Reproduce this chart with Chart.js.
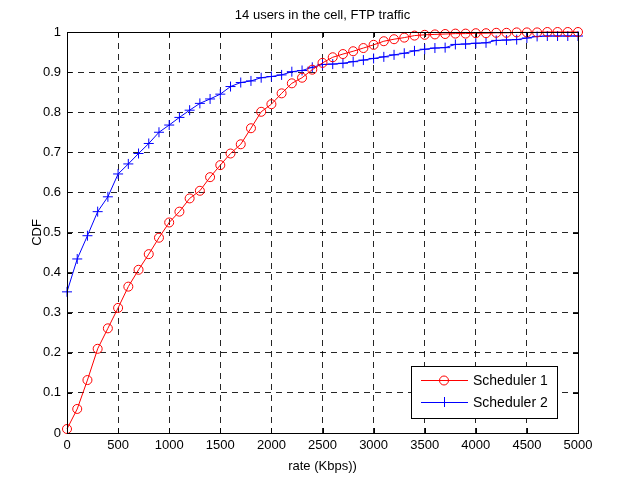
<!DOCTYPE html>
<html>
<head>
<meta charset="utf-8">
<script src="https://cdn.jsdelivr.net/npm/chart.js@4.4.1/dist/chart.umd.min.js"></script>
<style>
  html, body { margin: 0; padding: 0; background: #fff; }
  #wrap { width: 617px; height: 477px; }
</style>
</head>
<body>
<div id="wrap"><canvas id="cdfChart" width="617" height="477"></canvas></div>
<script>
// rate in Kbps, one point every 100
const rates = [0, 100, 200, 300, 400, 500, 600, 700, 800, 900,
  1000, 1100, 1200, 1300, 1400, 1500, 1600, 1700, 1800, 1900,
  2000, 2100, 2200, 2300, 2400, 2500, 2600, 2700, 2800, 2900,
  3000, 3100, 3200, 3300, 3400, 3500, 3600, 3700, 3800, 3900,
  4000, 4100, 4200, 4300, 4400, 4500, 4600, 4700, 4800, 4900, 5000];

const scheduler1 = [0.010, 0.060, 0.132, 0.210, 0.261, 0.312, 0.365, 0.407, 0.446, 0.487,
  0.525, 0.552, 0.585, 0.604, 0.638, 0.668, 0.697, 0.720, 0.760, 0.801,
  0.820, 0.847, 0.872, 0.886, 0.906, 0.923, 0.937, 0.945, 0.952, 0.960,
  0.968, 0.977, 0.982, 0.986, 0.991, 0.993, 0.994, 0.995, 0.996, 0.996,
  0.997, 0.997, 0.998, 0.998, 0.999, 0.999, 0.999, 1.000, 1.000, 1.000, 1.000];

const scheduler2 = [0.352, 0.434, 0.492, 0.552, 0.589, 0.646, 0.671, 0.697, 0.722, 0.750,
  0.768, 0.787, 0.805, 0.822, 0.833, 0.845, 0.864, 0.874, 0.878, 0.886,
  0.889, 0.893, 0.901, 0.904, 0.912, 0.919, 0.920, 0.922, 0.926, 0.930,
  0.934, 0.938, 0.943, 0.947, 0.953, 0.957, 0.960, 0.961, 0.969, 0.970,
  0.972, 0.973, 0.979, 0.980, 0.981, 0.985, 0.989, 0.990, 0.990, 0.990, 0.990];

const seriesNames = ["Scheduler 1", "Scheduler 2"];
const xTicks = [0, 500, 1000, 1500, 2000, 2500, 3000, 3500, 4000, 4500, 5000];
const yTicks = [0, 0.1, 0.2, 0.3, 0.4, 0.5, 0.6, 0.7, 0.8, 0.9, 1];

const FONT = "'Liberation Sans', Arial, sans-serif";

function toPoints(ys) {
  return rates.map((r, i) => ({x: r, y: ys[i]}));
}

//! box + inward ticks like matlab
const boxPlugin = {
  id: "box",
  afterDatasetsDraw(chart) {
    const {ctx, chartArea: a, scales} = chart;
    ctx.save();
    ctx.strokeStyle = "#000";
    ctx.lineWidth = 1;
    ctx.setLineDash([]);
    ctx.beginPath();
    for (const v of xTicks) {
      const px = Math.round(scales.x.getPixelForValue(v)) + 0.5;
      ctx.moveTo(px, a.bottom); ctx.lineTo(px, a.bottom - 5);
      ctx.moveTo(px, a.top); ctx.lineTo(px, a.top + 5);
    }
    for (const v of yTicks) {
      const py = Math.round(scales.y.getPixelForValue(v)) + 0.5;
      ctx.moveTo(a.left, py); ctx.lineTo(a.left + 5, py);
      ctx.moveTo(a.right, py); ctx.lineTo(a.right - 5, py);
    }
    ctx.stroke();
    ctx.strokeRect(Math.round(a.left) + 0.5, Math.round(a.top) + 0.5,
      Math.round(a.right - a.left), Math.round(a.bottom - a.top));
    ctx.restore();
  }
};

//! legend box in the lower right corner
const legendPlugin = {
  id: "matlabLegend",
  afterDraw(chart) {
    const {ctx, chartArea: a} = chart;
    const bx = a.right - 167, by = a.bottom - 67, bw = 146, bh = 52;
    ctx.save();
    ctx.fillStyle = "#fff";
    ctx.fillRect(bx, by, bw, bh);
    ctx.strokeStyle = "#000";
    ctx.lineWidth = 1;
    ctx.strokeRect(bx + 0.5, by + 0.5, bw, bh);
    chart.data.datasets.forEach((ds, i) => {
      const y = by + 14 + i * 22;
      ctx.strokeStyle = ds.borderColor;
      ctx.lineWidth = 1;
      ctx.beginPath();
      ctx.moveTo(bx + 10, y + 0.5);
      ctx.lineTo(bx + 57, y + 0.5);
      ctx.stroke();
      const mx = bx + 33;
      ctx.beginPath();
      if (ds.pointStyle === "circle") {
        ctx.arc(mx, y + 0.5, 4.5, 0, Math.PI * 2);
      } else {
        ctx.moveTo(mx - 5, y + 0.5); ctx.lineTo(mx + 5, y + 0.5);
        ctx.moveTo(mx + 0.5, y - 5); ctx.lineTo(mx + 0.5, y + 5);
      }
      ctx.stroke();
      ctx.fillStyle = "#000";
      ctx.font = "14px " + FONT;
      ctx.textBaseline = "middle";
      ctx.fillText(ds.label, bx + 62, y + 1);
    });
    ctx.restore();
  }
};

const ctx = document.getElementById("cdfChart");
const myChart = new Chart(ctx, {
  type: "line",
  data: {
    datasets: [{
      label: seriesNames[0],
      data: toPoints(scheduler1),
      borderColor: "#ff0000",
      backgroundColor: "rgba(0,0,0,0)",
      borderWidth: 1,
      pointStyle: "circle",
      pointRadius: 4.5,
      pointBorderWidth: 1,
      pointBorderColor: "#ff0000",
      pointBackgroundColor: "rgba(0,0,0,0)",
      tension: 0,
      clip: false
    }, {
      label: seriesNames[1],
      data: toPoints(scheduler2),
      borderColor: "#0000ff",
      backgroundColor: "#0000ff",
      borderWidth: 1,
      pointStyle: "cross",
      pointRadius: 5,
      pointBorderWidth: 1,
      pointBorderColor: "#0000ff",
      tension: 0,
      clip: false
    }]
  },
  options: {
    responsive: false,
    animation: false,
    layout: { padding: { top: 0, right: 39, bottom: 0, left: 0 } },
    plugins: {
      legend: { display: false },
      tooltip: { enabled: false },
      title: {
        display: true,
        text: "14 users in the cell, FTP traffic",
        fullSize: false,
        color: "#000",
        font: { family: FONT, size: 13, weight: "normal", lineHeight: 1.2 },
        padding: { top: 8, bottom: 8.4 }
      }
    },
    scales: {
      x: {
        type: "linear",
        min: 0, max: 5000,
        afterBuildTicks: (s) => { s.ticks = xTicks.map(v => ({value: v})); },
        afterFit: (s) => { s.height = 44; },
        ticks: { color: "#000", padding: 5, maxRotation: 0, autoSkip: false,
          callback: (v) => String(v),
          font: { family: FONT, size: 13 } },
        grid: { color: "rgba(0,0,0,0.85)", lineWidth: 1, drawTicks: false },
        border: { display: false, dash: [6, 5] },
        title: { display: true, text: "rate (Kbps))", color: "#000",
          font: { family: FONT, size: 13 }, padding: { top: 0, bottom: 3 } }
      },
      y: {
        type: "linear",
        min: 0, max: 1,
        afterBuildTicks: (s) => { s.ticks = yTicks.map(v => ({value: v})); },
        afterFit: (s) => { s.width = 67; },
        ticks: { color: "#000", padding: 6, autoSkip: false,
          callback: (v) => String(Math.round(v * 10) / 10),
          font: { family: FONT, size: 13 } },
        grid: { color: "rgba(0,0,0,0.85)", lineWidth: 1, drawTicks: false },
        border: { display: false, dash: [6, 5] },
        title: { display: true, text: "CDF", color: "#000",
          font: { family: FONT, size: 13 }, padding: { top: 30, bottom: 0 } }
      }
    }
  },
  plugins: [boxPlugin, legendPlugin]
});
</script>
</body>
</html>
